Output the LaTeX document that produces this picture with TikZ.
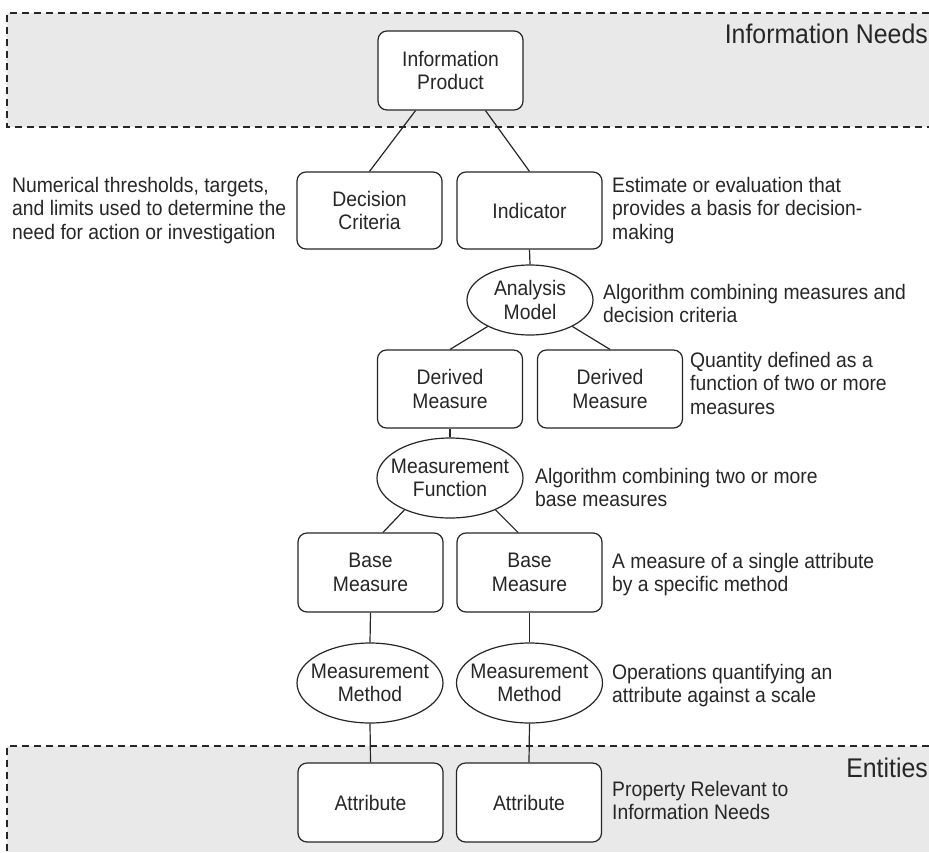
\documentclass[tikz,border=0pt]{standalone}
\usepackage{fontspec}
\setmainfont[FakeStretch=0.92]{Liberation Sans}
\usetikzlibrary{shapes.geometric}
\definecolor{band}{HTML}{E9E9E9}
\definecolor{ink}{HTML}{262626}
\begin{document}
\begin{tikzpicture}[x=1pt,y=-1pt,
  every node/.style={font=\fontsize{21}{23.5}\selectfont, text=ink},
  box/.style={draw=ink, line width=1.2pt, rounded corners=9pt, fill=white,
    minimum width=145pt, minimum height=77pt, align=center, inner sep=0pt},
  oval/.style={draw=ink, line width=1.2pt, ellipse, fill=white, align=center,
    inner xsep=-12pt, inner ysep=0pt, minimum width=146pt, minimum height=80pt},
  note/.style={anchor=base west, align=left, inner sep=0pt},
  link/.style={draw=ink, line width=1.2pt},
  zone/.style={draw=ink, line width=1.2pt, dash pattern=on 7pt off 5pt},
  zonelabel/.style={anchor=base east, inner sep=0pt, font=\fontsize{27}{30}\selectfont}]
\useasboundingbox (0,0) rectangle (929,852);

% shaded zones
\fill[band] (7,13) rectangle (929,127);
\draw[zone] (929,13) -- (7,13) -- (7,127) -- (929,127);
\fill[band] (7,746) rectangle (929,852);
\draw[zone] (929,746) -- (7,746) -- (7,852);
\node[zonelabel] (z1) at (928,43) {Information Needs};
\node[zonelabel] (z2) at (928,777) {Entities};

% elements
\node[box, minimum height=79pt] (ip) at (450.5,70.5) {Information\\Product};
\node[box] (dc) at (369.5,210.5) {Decision\\Criteria};
\node[box] (ind) at (529.5,210.5) {Indicator};
\node[oval, minimum width=126pt, minimum height=70pt] (am) at (530,300) {Analysis\\Model};
\node[box, minimum height=78pt] (dm1) at (450,389) {Derived\\Measure};
\node[box, minimum height=78pt] (dm2) at (610,389) {Derived\\Measure};
\node[oval] (mf) at (450,478) {Measurement\\Function};
\node[box, minimum height=79pt] (bm1) at (370.5,572.5) {Base\\Measure};
\node[box, minimum height=79pt] (bm2) at (529.5,572.5) {Base\\Measure};
\node[oval] (mm1) at (370,683) {Measurement\\Method};
\node[oval] (mm2) at (529.5,683) {Measurement\\Method};
\node[box, minimum height=79pt] (at1) at (370.5,802.5) {Attribute};
\node[box, minimum height=79pt] (at2) at (529,802.5) {Attribute};

% connectors
\draw[link] ([xshift=-35pt]ip.south) -- (dc.north);
\draw[link] ([xshift=35pt]ip.south) -- (ind.north);
\draw[link] (ind.south) -- (am.north);
\draw[link] (am.212) -- (dm1.north);
\draw[link] (am.328) -- (dm2.north);
\draw[link] (dm1.south) -- (mf.north);
\draw[link] (mf.215) -- ([xshift=12.5pt]bm1.north);
\draw[link] (mf.325) -- ([xshift=-11.5pt]bm2.north);
\draw[link] (bm1.south) -- (mm1.north);
\draw[link] (bm2.south) -- (mm2.north);
\draw[link] (mm1.south) -- (at1.north);
\draw[link] (mm2.south) -- (at2.north);

% descriptions (anchored at the baseline of their last line)
\node[note] (n1) at (12,239) {Numerical thresholds, targets,\\and limits used to determine the\\need for action or investigation};
\node[note] (n2) at (612,239) {Estimate or evaluation that\\provides a basis for decision-\\making};
\node[note] (n3) at (603,322.5) {Algorithm combining measures and\\decision criteria};
\node[note] (n4) at (690,414) {Quantity defined as a\\function of two or more\\measures};
\node[note] (n5) at (535,506.5) {Algorithm combining two or more\\base measures};
\node[note] (n6) at (612,591.5) {A measure of a single attribute\\by a specific method};
\node[note] (n7) at (612,702.5) {Operations quantifying an\\attribute against a scale};
\node[note] (n8) at (612,819.5) {Property Relevant to\\Information Needs};
\end{tikzpicture}
\end{document}
